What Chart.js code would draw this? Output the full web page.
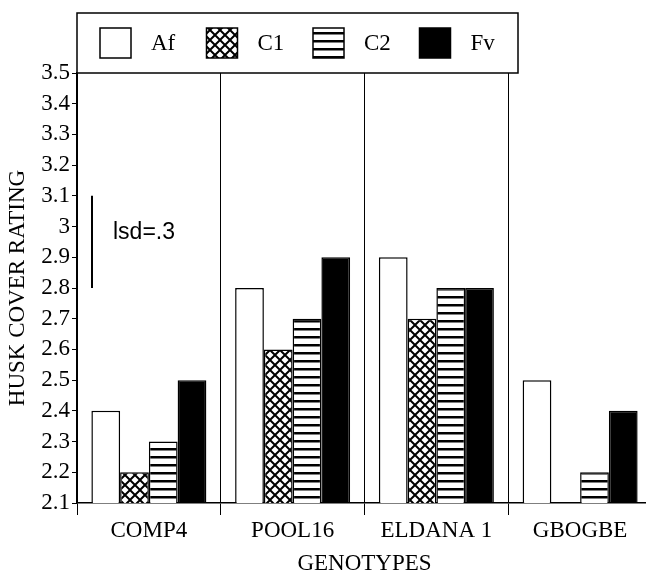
<!DOCTYPE html>
<html>
<head>
<meta charset="utf-8">
<script src="https://cdn.jsdelivr.net/npm/chart.js@4.4.0/dist/chart.umd.min.js"></script>
<style>
  html, body { margin: 0; padding: 0; background: #fff; overflow: hidden; }
  #wrap { width: 660px; height: 578px; }
</style>
</head>
<body>
<div id="wrap"><canvas id="myChart" width="660" height="578"></canvas></div>
<script>
// data
const genotypes = ['COMP4', 'POOL16', 'ELDANA 1', 'GBOGBE'];
const afValues = [2.4, 2.8, 2.9, 2.5];
const c1Values = [2.2, 2.6, 2.7, 2.1];
const c2Values = [2.3, 2.7, 2.8, 2.2];
const fvValues = [2.5, 2.9, 2.8, 2.4];
const yTickValues = [2.1, 2.2, 2.3, 2.4, 2.5, 2.6, 2.7, 2.8, 2.9, 3.0, 3.1, 3.2, 3.3, 3.4, 3.5];
const lsdBase = 2.8;
const lsdSize = 0.3;
const lsdLabel = 'lsd=.3';

const serif = '"Liberation Serif", "Times New Roman", serif';

function makePattern(kind) {
    const c = document.createElement('canvas');
    const size = kind === 'cross' ? 10 : 8;
    c.width = size;
    c.height = size;
    const p = c.getContext('2d');
    p.fillStyle = '#fff';
    p.fillRect(0, 0, size, size);
    p.strokeStyle = '#000';
    p.fillStyle = '#000';
    if (kind === 'cross') {
        p.lineWidth = 2;
        p.beginPath();
        p.moveTo(0, 0); p.lineTo(size, size);
        p.moveTo(size, 0); p.lineTo(0, size);
        p.stroke();
    } else {
        p.fillRect(0, 0, size, 2.5);
    }
    return p.createPattern(c, 'repeat');
}

const crossFill = makePattern('cross');
const stripeFill = makePattern('stripe');

const legendBox = {
    id: 'legendBox',
    afterDraw(chart) {
        const { ctx, chartArea } = chart;
        const left = chartArea.left;
        const bottom = chartArea.top;
        const top = 13;
        const right = left + 441;
        ctx.save();
        ctx.fillStyle = '#fff';
        ctx.fillRect(left, top, right - left, bottom - top);
        ctx.lineWidth = 1.5;
        ctx.strokeStyle = '#000';
        ctx.strokeRect(left, top, right - left, bottom - top);
        ctx.font = '23px ' + serif;
        ctx.textBaseline = 'middle';
        const midY = (top + bottom) / 2;
        chart.data.datasets.forEach((ds, i) => {
            const bx = left + 23 + i * 106.5;
            ctx.fillStyle = ds.backgroundColor;
            ctx.fillRect(bx, midY - 15, 31, 30);
            ctx.lineWidth = 1.5;
            ctx.strokeRect(bx, midY - 15, 31, 30);
            ctx.fillStyle = '#000';
            ctx.fillText(ds.label, bx + 51, midY + 1);
        });
        ctx.restore();
    }
};

const lsdMarker = {
    id: 'lsdMarker',
    afterDatasetsDraw(chart) {
        const { ctx, chartArea, scales } = chart;
        const x = chartArea.left + 15;
        const y0 = scales.y.getPixelForValue(lsdBase);
        const y1 = scales.y.getPixelForValue(lsdBase + lsdSize);
        ctx.save();
        ctx.strokeStyle = '#000';
        ctx.lineWidth = 2;
        ctx.beginPath();
        ctx.moveTo(x, y0);
        ctx.lineTo(x, y1);
        ctx.stroke();
        ctx.fillStyle = '#000';
        ctx.font = '23px "Liberation Sans", Arial, sans-serif';
        ctx.textBaseline = 'middle';
        ctx.fillText(lsdLabel, x + 21, (y0 + y1) / 2 - 9);
        ctx.restore();
    }
};

const barStyle = { borderColor: '#000', borderWidth: 1.5, barPercentage: 1.0, categoryPercentage: 0.8 };

new Chart(document.getElementById('myChart').getContext('2d'), {
    type: 'bar',
    data: {
        labels: genotypes,
        datasets: [
            { label: 'Af', data: afValues, backgroundColor: '#fff', ...barStyle },
            { label: 'C1', data: c1Values, backgroundColor: crossFill, ...barStyle },
            { label: 'C2', data: c2Values, backgroundColor: stripeFill, ...barStyle },
            { label: 'Fv', data: fvValues, backgroundColor: '#000', ...barStyle }
        ]
    },
    options: {
        responsive: false,
        animation: false,
        devicePixelRatio: 1,
        layout: { padding: { top: 73, right: 8, left: 0, bottom: 0 } },
        plugins: {
            legend: { display: false },
            tooltip: { enabled: false }
        },
        scales: {
            x: {
                grid: { color: '#000', lineWidth: 1, tickLength: 12, offset: true },
                border: { color: '#000', width: 1.5 },
                ticks: { color: '#000', font: { family: serif, size: 23 }, padding: 2, maxRotation: 0, autoSkip: false },
                title: { display: true, text: 'GENOTYPES', color: '#000', font: { family: serif, size: 23 }, padding: 0 },
                afterFit(scale) { scale.height = 75; }
            },
            y: {
                min: 2.1,
                max: 3.5,
                afterBuildTicks(scale) { scale.ticks = yTickValues.map(v => ({ value: v })); },
                grid: { color: '#000', drawOnChartArea: false, tickLength: 5 },
                border: { color: '#000', width: 1.5 },
                ticks: {
                    color: '#000',
                    font: { family: serif, size: 23 },
                    padding: 2,
                    callback: v => String(Number(v.toFixed(1)))
                },
                title: { display: true, text: 'HUSK COVER RATING', color: '#000', font: { family: serif, size: 23 }, padding: { top: 4, bottom: 0 } },
                afterFit(scale) { scale.width = 77; }
            }
        }
    },
    plugins: [lsdMarker, legendBox]
});
</script>
</body>
</html>
